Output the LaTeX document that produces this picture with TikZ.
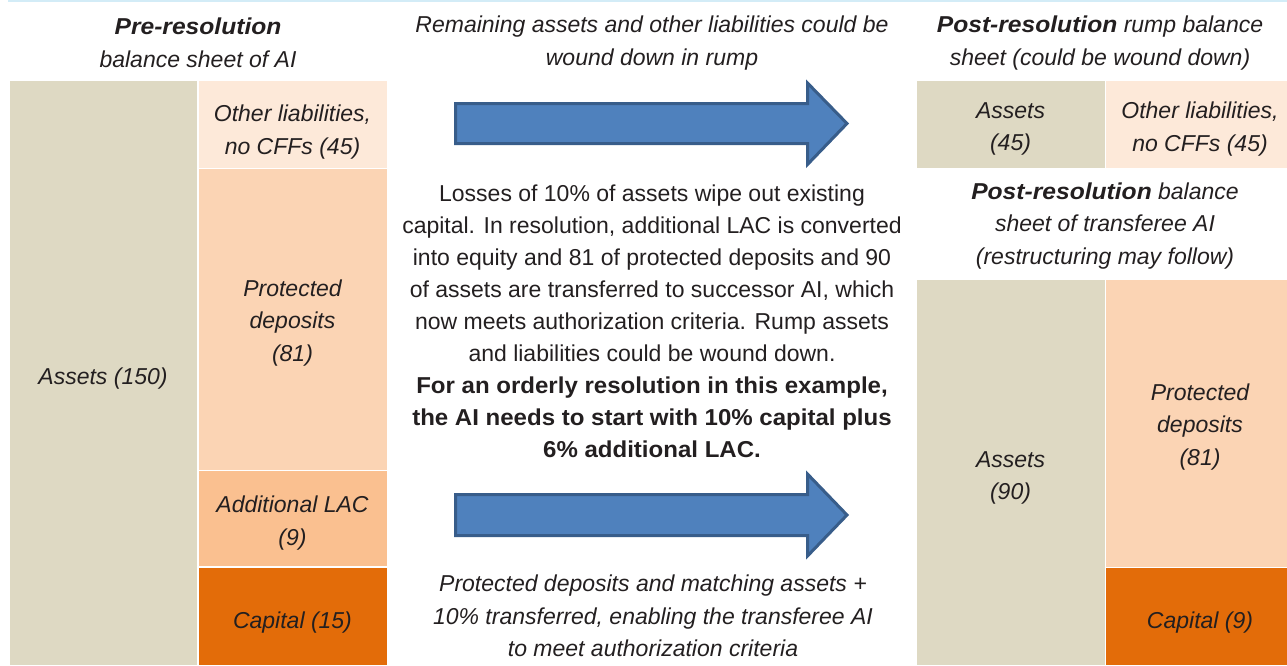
\documentclass[tikz,border=0pt]{standalone}
\usepackage{fontspec}
\setmainfont{Liberation Sans}[
  BoldFeatures={FakeStretch=1.045},
  BoldItalicFeatures={FakeStretch=1.07}]
\definecolor{assetc}{HTML}{DED9C3}
\definecolor{otherc}{HTML}{FDE9D9}
\definecolor{protc}{HTML}{FBD4B4}
\definecolor{lacc}{HTML}{FAC090}
\definecolor{capc}{HTML}{E36C09}
\definecolor{arrowc}{HTML}{4F81BD}
\definecolor{arrowb}{HTML}{385D8A}
\definecolor{rulec}{HTML}{D3ECF7}
\definecolor{ink}{HTML}{231F20}
\newcommand\blkfont{\fontsize{23}{32.5}\selectfont\itshape}
\newcommand\bodyfont{\fontsize{23}{32}\selectfont}
\begin{document}
\begin{tikzpicture}[x=1pt,y=-1pt,
  blk/.style={rectangle, inner sep=0pt, draw=white, line width=0.4pt},
  txt/.style={inner sep=0pt, align=center, font=\blkfont, text=ink},
  bigarrow/.style={fill=arrowc, draw=arrowb, line width=3pt, line join=miter}]
\useasboundingbox (0,0) rectangle (1287,665);

% thin rule along the top edge
\draw[rulec, line width=1.5pt] (8,0.75) -- (1287,0.75);

% headings
\node[txt] (prehd) at (198,43) {\textbf{Pre-resolution}\\balance sheet of AI};
\node[txt] (rumptxt) at (652,43) {Remaining assets and other liabilities could be\\wound down in rump};
\node[txt] (rumphd) at (1100,43) {\textbf{Post-resolution} rump balance\\sheet (could be wound down)};
\node[txt] (transhd) at (1105,226) {\textbf{Post-resolution} balance\\sheet of transferee AI\\(restructuring may follow)};

% pre-resolution balance sheet
\node[blk, fill=assetc, minimum width=188pt, minimum height=585pt] (preA) at (103,372.5) {};
\node[blk, fill=otherc, minimum width=189pt, minimum height=88pt] (preO) at (292.5,124) {};
\node[blk, fill=protc, minimum width=189pt, minimum height=302pt] (preP) at (292.5,319) {};
\node[blk, fill=lacc, minimum width=189pt, minimum height=96pt] (preL) at (292.5,518) {};
\node[blk, fill=capc, minimum width=189pt, minimum height=98pt] (preC) at (292.5,616) {};
\node[txt] (preAt) at ([yshift=-6pt]preA.center) {Assets (150)};
\node[txt] (preOt) at ([yshift=-8pt]preO.center) {Other liabilities,\\no CFFs (45)};
\node[txt] (prePt) at ([yshift=-4pt]preP.center) {Protected\\deposits\\(81)};
\node[txt] (preLt) at ([yshift=-5pt]preL.center) {Additional LAC\\(9)};
\node[txt] (preCt) at ([yshift=-7pt]preC.center) {Capital (15)};

% rump balance sheet
\node[blk, fill=assetc, minimum width=189pt, minimum height=88pt] (rumpA) at (1010.5,124) {};
\node[blk, fill=otherc, minimum width=190pt, minimum height=88pt] (rumpO) at (1200,124) {};
\node[txt] (rumpAt) at ([yshift=-5pt]rumpA.center) {Assets\\(45)};
\node[txt] (rumpOt) at ([yshift=-5pt]rumpO.center) {Other liabilities,\\no CFFs (45)};

% transferee balance sheet
\node[blk, fill=assetc, minimum width=189pt, minimum height=386pt] (trA) at (1010.5,472) {};
\node[blk, fill=protc, minimum width=190pt, minimum height=288pt] (trP) at (1200,423) {};
\node[blk, fill=capc, minimum width=190pt, minimum height=98pt] (trC) at (1200,616) {};
\node[txt] (trAt) at ([yshift=-6pt]trA.center) {Assets\\(90)};
\node[txt] (trPt) at ([yshift=-4pt]trP.center) {Protected\\deposits\\(81)};
\node[txt] (trCt) at ([yshift=-7pt]trC.center) {Capital (9)};

% block arrows
\draw[bigarrow] (455.5,103.5) -- (807.5,103.5) -- (807.5,83) -- (847,123.5)
  -- (807.5,164.5) -- (807.5,143.5) -- (455.5,143.5) -- cycle;
\draw[bigarrow] (455.5,494.5) -- (807.5,494.5) -- (807.5,474) -- (847,515)
  -- (807.5,556) -- (807.5,535.5) -- (455.5,535.5) -- cycle;

% explanation
\node[txt, font=\bodyfont] (expl) at (652,321) {Losses of 10\% of assets wipe out existing\\
capital. In resolution, additional LAC is converted\\
into equity and 81 of protected deposits and 90\\
of assets are transferred to successor AI, which\\
now meets authorization criteria. Rump assets\\
and liabilities could be wound down.\\
\textbf{For an orderly resolution in this example,}\\
\textbf{the AI needs to start with 10\% capital plus}\\
\textbf{6\% additional LAC.}};

\node[txt] (transtxt) at (653,616) {Protected deposits and matching assets +\\10\% transferred, enabling the transferee AI\\to meet authorization criteria};
\end{tikzpicture}
\end{document}
